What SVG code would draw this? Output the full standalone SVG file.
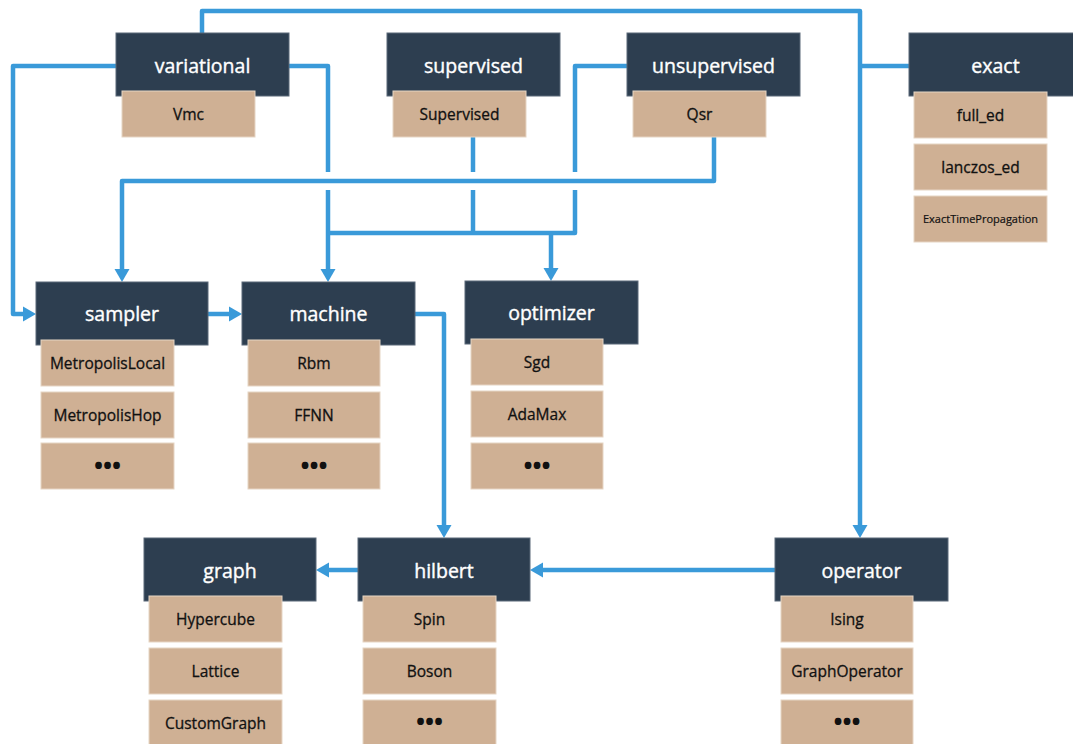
<svg xmlns="http://www.w3.org/2000/svg" width="1073" height="744" viewBox="0 0 1073 744">
<style>
.h{fill:#2d3e50;stroke:#5b6878;stroke-width:1}
.s{fill:#cfb094;stroke:#e6d5c4;stroke-width:1}
.ht{fill:#ffffff;stroke:#ffffff;stroke-width:0.4;font-family:"Open Sans","Noto Sans",sans-serif;font-size:19.5px;font-weight:400;text-anchor:middle}
.st{fill:#111111;stroke:#111111;stroke-width:0.3;font-family:"Open Sans","Noto Sans",sans-serif;font-size:15.5px;font-weight:400;text-anchor:middle}
.sm{font-size:11px;stroke-width:0.2}
.dots{font-size:24px;font-weight:700;stroke-width:0}
.c{fill:none;stroke:#3a9ad9;stroke-width:4.5;stroke-linejoin:round}
</style>
<defs>
<marker id="arr" markerUnits="userSpaceOnUse" markerWidth="13" markerHeight="16" refX="5" refY="8" orient="auto" viewBox="0 0 13 16">
<path d="M0,0.5 L13,8 L0,15.5 z" fill="#3a9ad9"/>
</marker>
</defs>
<rect width="1073" height="744" fill="#ffffff"/>
<g id="connectors">
<path class="c" d="M202,33 V11 H860 V530" marker-end="url(#arr)"/>
<path class="c" d="M909,66 H860"/>
<path class="c" d="M116,66 H13 V314 H28" marker-end="url(#arr)"/>
<path class="c" d="M289,66 H328 V172"/>
<path class="c" d="M328,190 V274" marker-end="url(#arr)"/>
<path class="c" d="M714,137 V181 H122 V274" marker-end="url(#arr)"/>
<path class="c" d="M473,137 V172"/>
<path class="c" d="M473,190 V233"/>
<path class="c" d="M627,66 H575 V172"/>
<path class="c" d="M575,190 V233 H328"/>
<path class="c" d="M551,233 V273" marker-end="url(#arr)"/>
<path class="c" d="M208,314 H234" marker-end="url(#arr)"/>
<path class="c" d="M415,314 H444 V530" marker-end="url(#arr)"/>
<path class="c" d="M358,570 H324" marker-end="url(#arr)"/>
<path class="c" d="M775,570 H538" marker-end="url(#arr)"/>
</g>
<g id="variational">
<rect class="h" x="116" y="33" width="173" height="63"/>
<text class="ht" x="202.5" y="73">variational</text>
<rect class="s" x="122" y="91" width="133" height="46"/>
<text class="st" x="188.5" y="120">Vmc</text>
</g>
<g id="supervised">
<rect class="h" x="387" y="33" width="173" height="63"/>
<text class="ht" x="473.5" y="73">supervised</text>
<rect class="s" x="393" y="91" width="133" height="46"/>
<text class="st" x="459.5" y="120">Supervised</text>
</g>
<g id="unsupervised">
<rect class="h" x="627" y="33" width="173" height="63"/>
<text class="ht" x="713.5" y="73">unsupervised</text>
<rect class="s" x="633" y="91" width="133" height="46"/>
<text class="st" x="699.5" y="120">Qsr</text>
</g>
<g id="exact">
<rect class="h" x="909" y="33" width="173" height="63"/>
<text class="ht" x="995.5" y="73">exact</text>
<rect class="s" x="914" y="92" width="133" height="46"/>
<text class="st" x="980.5" y="121">full_ed</text>
<rect class="s" x="914" y="144" width="133" height="46"/>
<text class="st" x="980.5" y="173">lanczos_ed</text>
<rect class="s" x="914" y="196" width="133" height="46"/>
<text class="st sm" x="980.5" y="223">ExactTimePropagation</text>
</g>
<g id="sampler">
<rect class="h" x="36" y="282" width="172" height="63"/>
<text class="ht" x="122" y="321">sampler</text>
<rect class="s" x="41" y="340" width="133" height="46"/>
<text class="st" x="107.5" y="369">MetropolisLocal</text>
<rect class="s" x="41" y="392" width="133" height="46"/>
<text class="st" x="107.5" y="421">MetropolisHop</text>
<rect class="s" x="41" y="443" width="133" height="46"/>
<text class="st dots" x="107.5" y="474">•••</text>
</g>
<g id="machine">
<rect class="h" x="242" y="282" width="173" height="63"/>
<text class="ht" x="328.5" y="321">machine</text>
<rect class="s" x="248" y="340" width="132" height="46"/>
<text class="st" x="314" y="369">Rbm</text>
<rect class="s" x="248" y="392" width="132" height="46"/>
<text class="st" x="314" y="421">FFNN</text>
<rect class="s" x="248" y="443" width="132" height="46"/>
<text class="st dots" x="314" y="474">•••</text>
</g>
<g id="optimizer">
<rect class="h" x="465" y="281" width="173" height="63"/>
<text class="ht" x="551.5" y="320">optimizer</text>
<rect class="s" x="471" y="339" width="132" height="46"/>
<text class="st" x="537" y="368">Sgd</text>
<rect class="s" x="471" y="391" width="132" height="46"/>
<text class="st" x="537" y="420">AdaMax</text>
<rect class="s" x="471" y="443" width="132" height="46"/>
<text class="st dots" x="537" y="474">•••</text>
</g>
<g id="graph">
<rect class="h" x="144" y="538" width="172" height="63"/>
<text class="ht" x="230" y="578">graph</text>
<rect class="s" x="149" y="596" width="133" height="46"/>
<text class="st" x="215.5" y="625">Hypercube</text>
<rect class="s" x="149" y="648" width="133" height="46"/>
<text class="st" x="215.5" y="677">Lattice</text>
<rect class="s" x="149" y="700" width="133" height="46"/>
<text class="st" x="215.5" y="729">CustomGraph</text>
</g>
<g id="hilbert">
<rect class="h" x="358" y="538" width="172" height="63"/>
<text class="ht" x="444" y="578">hilbert</text>
<rect class="s" x="363" y="596" width="133" height="46"/>
<text class="st" x="429.5" y="625">Spin</text>
<rect class="s" x="363" y="648" width="133" height="46"/>
<text class="st" x="429.5" y="677">Boson</text>
<rect class="s" x="363" y="700" width="133" height="46"/>
<text class="st dots" x="429.5" y="730">•••</text>
</g>
<g id="operator">
<rect class="h" x="775" y="538" width="173" height="63"/>
<text class="ht" x="861.5" y="578">operator</text>
<rect class="s" x="781" y="596" width="132" height="46"/>
<text class="st" x="847" y="625">Ising</text>
<rect class="s" x="781" y="648" width="132" height="46"/>
<text class="st" x="847" y="677">GraphOperator</text>
<rect class="s" x="781" y="700" width="132" height="46"/>
<text class="st dots" x="847" y="730">•••</text>
</g>
</svg>
